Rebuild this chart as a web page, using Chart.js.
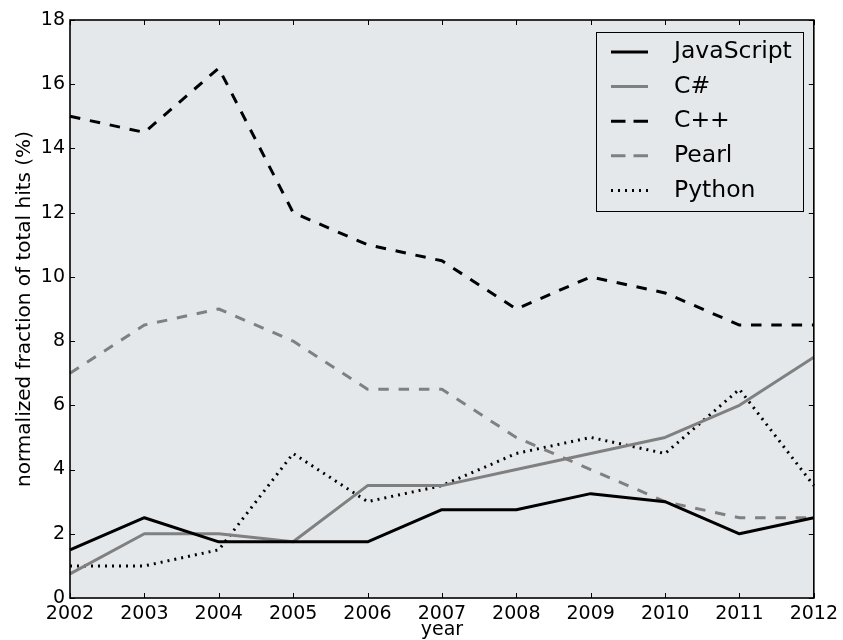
<!DOCTYPE html>
<html>
<head>
<meta charset="utf-8">
<script src="https://cdn.jsdelivr.net/npm/chart.js@4.4.1/dist/chart.umd.min.js"></script>
<style>
  html, body { margin: 0; padding: 0; background: #ffffff; }
  #wrap { width: 843px; height: 640px; }
</style>
</head>
<body>
<div id="wrap"><canvas id="chart" width="843" height="640"></canvas></div>
<script>
// Share of total hits per language, by year (%)
const years = ['2002', '2003', '2004', '2005', '2006', '2007', '2008', '2009', '2010', '2011', '2012'];
const yTickValues = [0, 2, 4, 6, 8, 10, 12, 14, 16, 18];

const javascript = [1.5, 2.5, 1.75, 1.75, 1.75, 2.75, 2.75, 3.25, 3.0, 2.0, 2.5];
const csharp     = [0.75, 2.0, 2.0, 1.75, 3.5, 3.5, 4.0, 4.5, 5.0, 6.0, 7.5];
const cpp        = [15.0, 14.5, 16.5, 12.0, 11.0, 10.5, 9.0, 10.0, 9.5, 8.5, 8.5];
const pearl      = [7.0, 8.5, 9.0, 8.0, 6.5, 6.5, 5.0, 4.0, 3.0, 2.5, 2.5];
const python     = [1.0, 1.0, 1.5, 4.5, 3.0, 3.5, 4.5, 5.0, 4.5, 6.5, 3.5];

const FONT = 'DejaVu Sans';
const GRAY = '#808080';
const DASH = [10.5, 9.8];
const DOT = [2, 5];

function series(label, data, color, dash, legendDash) {
  return {
    label, data,
    borderColor: color,
    backgroundColor: color,
    borderWidth: 3,
    borderDash: dash,
    legendDash: legendDash,
    borderCapStyle: 'butt',
    borderJoinStyle: 'round',
    pointRadius: 0,
    pointHoverRadius: 0,
    tension: 0,
    fill: false
  };
}

// Plot background, frame, inward ticks on all four sides
const axesFrame = {
  id: 'axesFrame',
  beforeDatasetsDraw(chart) {
    const { ctx, chartArea: a } = chart;
    ctx.save();
    ctx.fillStyle = '#e5e8eb';
    ctx.fillRect(a.left, a.top, a.right - a.left, a.bottom - a.top);
    ctx.restore();
  },
  afterDatasetsDraw(chart) {
    const { ctx, chartArea: a, scales } = chart;
    const tl = 5;
    ctx.save();
    ctx.strokeStyle = '#000';
    ctx.lineWidth = 1;
    ctx.beginPath();
    years.forEach((_, i) => {
      const x = Math.round(scales.x.getPixelForValue(i)) + 0.5;
      ctx.moveTo(x, a.bottom); ctx.lineTo(x, a.bottom - tl);
      ctx.moveTo(x, a.top); ctx.lineTo(x, a.top + tl);
    });
    yTickValues.forEach(v => {
      const y = Math.round(scales.y.getPixelForValue(v)) + 0.5;
      ctx.moveTo(a.left, y); ctx.lineTo(a.left + tl, y);
      ctx.moveTo(a.right, y); ctx.lineTo(a.right - tl, y);
    });
    ctx.stroke();
    ctx.lineWidth = 1.6;
    ctx.strokeRect(a.left, a.top, a.right - a.left, a.bottom - a.top);
    ctx.restore();
  }
};

// Boxed legend in the upper right corner of the plot
const boxLegend = {
  id: 'boxLegend',
  afterDraw(chart) {
    const { ctx } = chart;
    const box = { x: 596.5, y: 32.5, w: 207, h: 179 };
    const rowTop = 52, rowGap = 34.6;
    ctx.save();
    ctx.strokeStyle = '#000';
    ctx.lineWidth = 1;
    ctx.strokeRect(box.x, box.y, box.w, box.h);
    ctx.font = '23.5px "' + FONT + '"';
    ctx.textBaseline = 'middle';
    ctx.textAlign = 'left';
    chart.data.datasets.forEach((ds, i) => {
      const y = rowTop + i * rowGap;
      ctx.beginPath();
      ctx.strokeStyle = ds.borderColor;
      ctx.lineWidth = ds.borderWidth;
      ctx.lineCap = 'butt';
      ctx.setLineDash(ds.legendDash || []);
      ctx.moveTo(611, y);
      ctx.lineTo(648, y);
      ctx.stroke();
      ctx.setLineDash([]);
      ctx.fillStyle = '#000';
      ctx.fillText(ds.label, 674, y);
    });
    ctx.restore();
  }
};

new Chart(document.getElementById('chart'), {
  type: 'line',
  data: {
    labels: years,
    datasets: [
      series('JavaScript', javascript, '#000000', [], []),
      series('C#', csharp, GRAY, [], []),
      series('C++', cpp, '#000000', DASH, [14.5, 8]),
      series('Pearl', pearl, GRAY, DASH, [14.5, 8]),
      series('Python', python, '#000000', DOT, DOT)
    ]
  },
  options: {
    responsive: false,
    animation: false,
    events: [],
    layout: { padding: { top: 20, right: 27, left: 0, bottom: 0 } },
    plugins: {
      legend: { display: false },
      tooltip: { enabled: false },
      title: { display: false }
    },
    scales: {
      x: {
        type: 'category',
        offset: false,
        grid: { display: false, drawTicks: false },
        border: { display: false },
        ticks: {
          color: '#000',
          font: { family: FONT, size: 19 },
          padding: 5,
          maxRotation: 0,
          autoSkip: false
        },
        title: {
          display: true,
          text: 'year',
          color: '#000',
          font: { family: FONT, size: 19, lineHeight: 1.0 },
          padding: { top: 0, bottom: 0.5 }
        },
        afterFit(s) { s.height = 42; }
      },
      y: {
        min: 0,
        max: 18,
        grid: { display: false, drawTicks: false },
        border: { display: false },
        afterBuildTicks(s) { s.ticks = yTickValues.map(v => ({ value: v })); },
        ticks: {
          color: '#000',
          font: { family: FONT, size: 19 },
          padding: 5
        },
        title: {
          display: true,
          text: 'normalized fraction of total hits (%)',
          color: '#000',
          font: { family: FONT, size: 20, lineHeight: 1.2 },
          padding: { top: 13, bottom: 0 }
        },
        afterFit(s) { s.width = 70; }
      }
    }
  },
  plugins: [axesFrame, boxLegend]
});
</script>
</body>
</html>
